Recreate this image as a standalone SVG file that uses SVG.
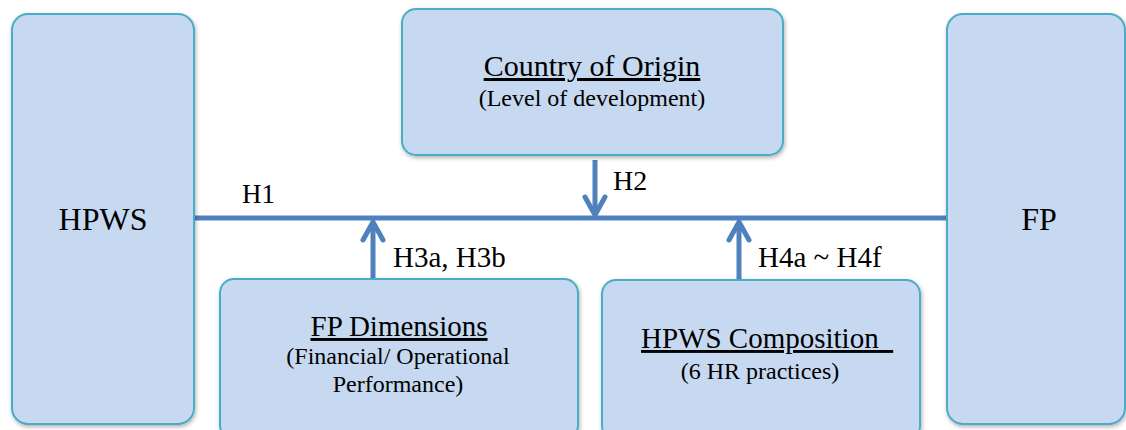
<svg xmlns="http://www.w3.org/2000/svg" width="1126" height="430" viewBox="0 0 1126 430">
<defs>
<style>
.box{fill:#c6d9f0;stroke:#4bacc6;stroke-width:2;filter:url(#sh)}
.t{font-family:'Liberation Serif','Times New Roman','DejaVu Serif',serif;fill:#000}
.c{stroke:#4f81bd;stroke-width:5;fill:none}
.ah{stroke:#4f81bd;stroke-width:5;fill:none;stroke-linecap:round;stroke-linejoin:round}
</style>
<filter id="sh" x="-10%" y="-10%" width="120%" height="120%">
<feDropShadow dx="1" dy="2" stdDeviation="2" flood-color="#000" flood-opacity="0.3"/>
</filter>
</defs>
<rect width="1126" height="430" fill="#fff"/>
<g id="connectors">
<line class="c" x1="194" y1="218" x2="948" y2="218"/>
<line class="c" x1="595" y1="160" x2="595" y2="214"/>
<polyline class="ah" points="585,197 595,215 605,197"/>
<line class="c" x1="373" y1="279" x2="373" y2="223"/>
<polyline class="ah" points="363,240 373,222 383,240"/>
<line class="c" x1="739" y1="279" x2="739" y2="223"/>
<polyline class="ah" points="729,240 739,222 749,240"/>
<text class="t" x="242" y="203" font-size="27">H1</text>
<text class="t" x="613" y="190" font-size="28">H2</text>
<text class="t" x="393" y="267" font-size="29">H3a, H3b</text>
<text class="t" x="758" y="267" font-size="29">H4a ~ H4f</text>
</g>
<g id="hpws">
<rect class="box" x="12" y="14" width="182" height="410" rx="16"/>
<text class="t" x="103" y="230" font-size="32" text-anchor="middle">HPWS</text>
</g>
<g id="fp">
<rect class="box" x="947" y="14" width="178" height="410" rx="16"/>
<text class="t" x="1039" y="230" font-size="32" text-anchor="middle">FP</text>
</g>
<g id="country">
<rect class="box" x="402" y="9" width="381" height="146" rx="14"/>
<text class="t" x="592" y="76" font-size="30" text-anchor="middle" text-decoration="underline">Country of Origin</text>
<text class="t" x="592" y="106" font-size="24" text-anchor="middle">(Level of development)</text>
</g>
<g id="fpdim">
<rect class="box" x="220" y="279" width="358" height="160" rx="14"/>
<text class="t" x="399" y="336" font-size="29" text-anchor="middle" text-decoration="underline">FP Dimensions</text>
<text class="t" x="398" y="364" font-size="24" text-anchor="middle">(Financial/ Operational</text>
<text class="t" x="398" y="392" font-size="24" text-anchor="middle">Performance)</text>
</g>
<g id="hpwscomp">
<rect class="box" x="602" y="280" width="318" height="160" rx="14"/>
<text class="t" x="641" y="348" font-size="29" xml:space="preserve" text-decoration="underline">HPWS Composition  </text>
<text class="t" x="760" y="379" font-size="24" text-anchor="middle">(6 HR practices)</text>
</g>
</svg>
